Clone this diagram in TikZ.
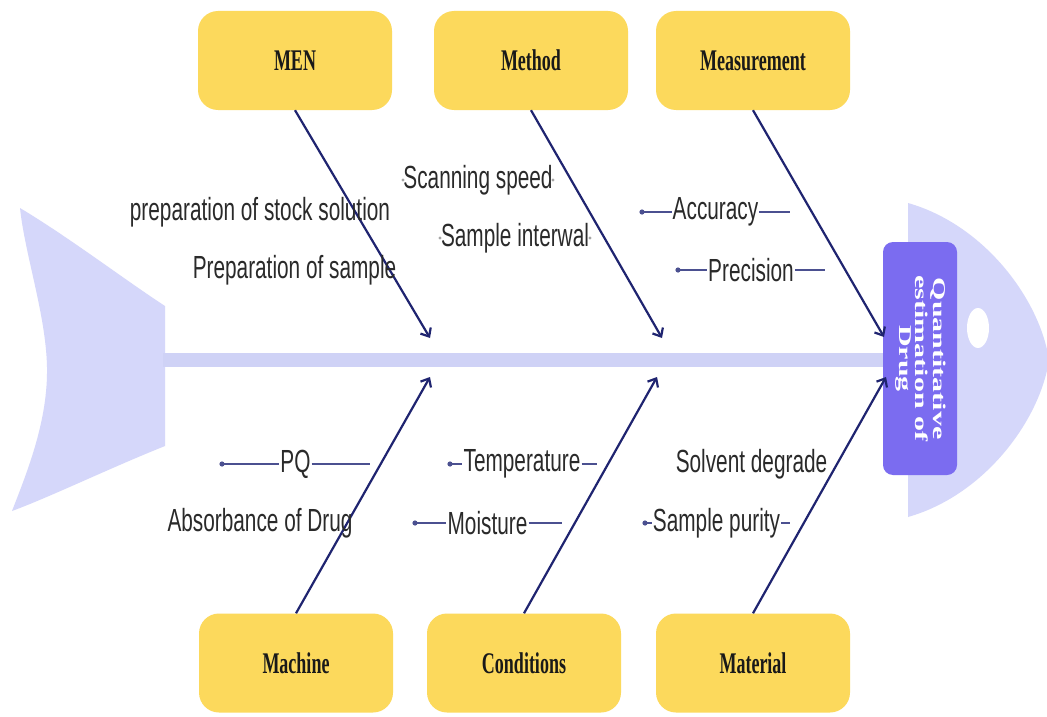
\documentclass[tikz,border=0pt]{standalone}
\usepackage{fontspec}
\setmainfont{Liberation Sans}
\newfontfamily\serifcat{Liberation Serif}
\usetikzlibrary{arrows.meta}
\definecolor{ylw}{HTML}{FCD95C}
\definecolor{lav}{HTML}{D5D7FA}
\definecolor{spinec}{HTML}{CFD2F6}
\definecolor{headbox}{HTML}{7B6CF0}
\definecolor{navy}{HTML}{1F2470}
\definecolor{txt}{HTML}{2A2A2A}
\definecolor{tickc}{HTML}{4B5090}
\newcommand{\sqlab}[1]{\scalebox{0.65}[1]{#1}}
\newcommand{\sqcat}[1]{\scalebox{0.6}[1]{#1}}
\tikzset{
  catbox/.style={fill=ylw, rounded corners=20pt, minimum width=194pt, minimum height=99pt, inner sep=0pt,
    font=\serifcat\bfseries\fontsize{30}{32}\selectfont, text=black!90},
  bone/.style={draw=navy, line width=2.2pt, -{Straight Barb[length=7pt,width=12pt]}},
  lab/.style={font=\fontsize{32}{34}\selectfont, text=txt, inner sep=1pt},
  tick/.style={draw=tickc, line width=1.6pt},
  tdot/.style={fill=tickc},
  sdot/.style={fill=gray!70},
}
\begin{document}
\begin{tikzpicture}[x=1pt,y=-1pt]
\useasboundingbox (0,0) rectangle (1047,717);
\fill[white] (0,0) rectangle (1047,717);
% tail
\fill[lav] (20,208) .. controls (70,238) and (125,280) .. (165,306)
  -- (165,446) .. controls (110,468) and (50,497) .. (12,511)
  .. controls (28,470) and (48,420) .. (47,367)
  .. controls (46,315) and (25,255) .. (20,208) -- cycle;
% head
\fill[lav] (908,203) .. controls (985,225) and (1040,300) .. (1049,360)
  .. controls (1040,420) and (985,495) .. (908,517) -- cycle;
\fill[white] (978,328) ellipse (11 and 20);
% spine
\fill[spinec] (163,353) rectangle (887,367);
% head box
\node[fill=headbox, rounded corners=10pt, rotate=-90, minimum width=233pt, minimum height=74pt,
  inner sep=0pt, text=white, font=\serifcat\bfseries\fontsize{30}{27}\selectfont] (head) at (920,358.5)
  {\scalebox{1}[0.6]{\begin{tabular}{@{}c@{}}Quantitative\\estimation of\\Drug\end{tabular}}};
% category boxes
\node[catbox] (men) at (295,60.5) {\sqcat{MEN}};
\node[catbox] (method) at (531,60.5) {\sqcat{Method}};
\node[catbox] (meas) at (753,60.5) {\sqcat{Measurement}};
\node[catbox] (mach) at (296,663) {\sqcat{Machine}};
\node[catbox] (cond) at (524,663) {\sqcat{Conditions}};
\node[catbox] (mat) at (753,663) {\sqcat{Material}};
% arrow tips
\coordinate (tmen) at (430,338);
\coordinate (tmethod) at (662,338);
\coordinate (tmeas) at (884,337);
\coordinate (tmach) at (430,377);
\coordinate (tcond) at (657,377);
\coordinate (tmat) at (886,377);
\draw[bone] (men.south) -- (tmen);
\draw[bone] (method.south) -- (tmethod);
\draw[bone] (meas.south) -- (tmeas);
\draw[bone] (mach.north) -- (tmach);
\draw[bone] (cond.north) -- (tcond);
\draw[bone] (mat.north) -- (tmat);
% labels
\node[lab] (stock) at (260,212) {\sqlab{preparation of stock solution}};
\node[lab] (psample) at (294.5,270) {\sqlab{Preparation of sample}};
\node[lab] (scan) at (478,180) {\sqlab{Scanning speed}};
\node[lab] (sint) at (515,238) {\sqlab{Sample interwal}};
\node[lab] (acc) at (715.5,212) {\sqlab{Accuracy}};
\node[lab] (prec) at (751,270) {\sqlab{Precision}};
\node[lab] (pq) at (295.5,464) {\sqlab{PQ}};
\node[lab] (absd) at (260,523) {\sqlab{Absorbance of Drug}};
\node[lab] (temp) at (522,464) {\sqlab{Temperature}};
\node[lab] (moist) at (487.5,523) {\sqlab{Moisture}};
\node[lab] (solv) at (751.5,464) {\sqlab{Solvent degrade}};
\node[lab] (spur) at (716.5,523) {\sqlab{Sample purity}};
% small dots around method labels
\coordinate (scanL) at (403,180); \coordinate (scanR) at (553,180);
\coordinate (sintL) at (440,238); \coordinate (sintR) at (590,238);
\fill[sdot] (scanL) circle (1.6); \fill[sdot] (scanR) circle (1.6);
\fill[sdot] (sintL) circle (1.6); \fill[sdot] (sintR) circle (1.6);
% tick lines with dots
\coordinate (accL) at (642,212); \coordinate (accR) at (790,212);
\draw[tick] (accL) -- (acc.west); \draw[tick] (acc.east) -- (accR); \fill[tdot] (accL) circle (2.6);
\coordinate (precL) at (678,270); \coordinate (precR) at (825,270);
\draw[tick] (precL) -- (prec.west); \draw[tick] (prec.east) -- (precR); \fill[tdot] (precL) circle (2.6);
\coordinate (pqL) at (222,464); \coordinate (pqR) at (370,464);
\draw[tick] (pqL) -- (pq.west); \draw[tick] (pq.east) -- (pqR); \fill[tdot] (pqL) circle (2.6);
\coordinate (tempL) at (450,464); \coordinate (tempR) at (597,464);
\draw[tick] (tempL) -- (temp.west); \draw[tick] (temp.east) -- (tempR); \fill[tdot] (tempL) circle (2.6);
\coordinate (moistL) at (415,523); \coordinate (moistR) at (562,523);
\draw[tick] (moistL) -- (moist.west); \draw[tick] (moist.east) -- (moistR); \fill[tdot] (moistL) circle (2.6);
\coordinate (spurL) at (645,523); \coordinate (spurR) at (790,523);
\draw[tick] (spurL) -- (spur.west); \draw[tick] (spur.east) -- (spurR); \fill[tdot] (spurL) circle (2.6);
\end{tikzpicture}
\end{document}
